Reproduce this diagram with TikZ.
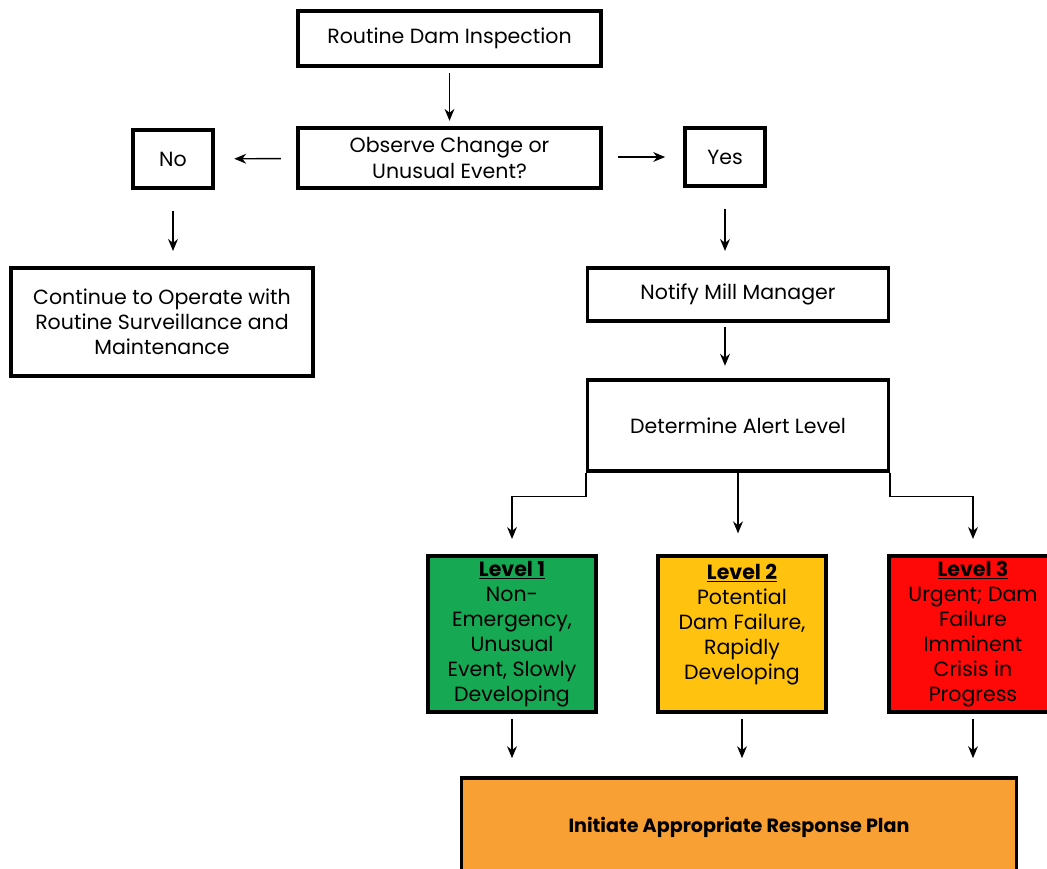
\documentclass[tikz,border=0pt]{standalone}
\usepackage{fontspec}
\setmainfont{Poppins}
\usepackage{tikz}
\usetikzlibrary{arrows.meta,positioning}
\definecolor{lvlgreen}{RGB}{22,168,82}
\definecolor{lvlyellow}{RGB}{255,194,14}
\definecolor{lvlred}{RGB}{255,8,8}
\definecolor{planorange}{RGB}{248,160,52}
\tikzstyle{box} = [draw, line width=2.2pt, align=center, inner sep=2pt, font=\fontsize{14.6}{17.8}\selectfont]
\tikzstyle{level} = [box, minimum width=4.2cm, minimum height=3.9cm]
\tikzstyle{arrow} = [line width=1pt,-{Stealth[length=8.5pt,width=7pt]}]

\begin{document}
\begin{tikzpicture}[x=0.025cm,y=-0.025cm]
\useasboundingbox (0,0) rectangle (1047,869);

% Inspection and decision
\node[box, minimum width=7.575cm, minimum height=1.375cm] (insp) at (449.5,38.5) {Routine Dam Inspection};
\node[box, minimum width=7.575cm, minimum height=1.5cm] (obs) at (449.5,158) {Observe Change or\\Unusual Event?};
\node[box, minimum width=2cm, minimum height=1.45cm] (no) at (173,159) {No};
\node[box, minimum width=2cm, minimum height=1.45cm] (yes) at (725,157) {Yes};

% No branch
\node[box, minimum width=7.55cm, minimum height=2.7cm] (cont) at (162,322) {Continue to Operate with\\Routine Surveillance and\\Maintenance};

% Yes branch
\node[box, minimum width=7.525cm, minimum height=1.325cm] (notify) at (738,294.5) {Notify Mill Manager};
\node[box, minimum width=7.525cm, minimum height=2.275cm] (alert) at (738,425.5) {Determine Alert Level};

% Alert levels (text starts at the top, so level 2 gets an empty last line)
\node[level, fill=lvlgreen] (lvl1) at (512,634) {\textbf{\underline{Level 1}}\\Non-\\Emergency,\\Unusual\\Event, Slowly\\Developing};
\node[level, fill=lvlyellow] (lvl2) at (742,634) {\textbf{\underline{Level 2}}\\Potential\\Dam Failure,\\Rapidly\\Developing\\\mbox{}};
\node[level, fill=lvlred] (lvl3) at (973,634) {\textbf{\underline{Level 3}}\\Urgent; Dam\\Failure\\Imminent\\Crisis in\\Progress};

% Response
\node[box, fill=planorange, minimum width=13.85cm, minimum height=2.45cm, font=\bfseries\fontsize{13.6}{16}\selectfont] (plan) at (739,827) {Initiate Appropriate Response Plan};

% Arrows
\draw[arrow, shorten <=4pt, shorten >=4pt] (insp) -- (obs);
\draw[arrow, shorten <=11pt, shorten >=14pt] (obs) -- (no);
\draw[arrow, shorten <=11pt, shorten >=13pt] (obs.east |- yes) -- (yes);
\draw[arrow, shorten <=15pt, shorten >=11pt] (no.south) -- (no.south |- cont.north);
\draw[arrow, shorten <=15pt, shorten >=11pt] (yes.south) -- (yes.south |- notify.north);
\draw[arrow, shorten <=3pt, shorten >=9pt] (notify.south -| yes) -- (yes |- alert.north);
\draw[arrow, shorten >=11pt] (alert.south west) -- ++(0,24) -| (lvl1.north);
\draw[arrow, shorten >=15pt] (alert.south) -- (alert.south |- lvl2.north);
\draw[arrow, shorten >=11pt] (alert.south east) -- ++(0,24) -| (lvl3.north);
\foreach \l in {lvl1,lvl2,lvl3}
    \draw[arrow, shorten <=4pt, shorten >=13pt] (\l.south) -- (\l.south |- plan.north);
\end{tikzpicture}
\end{document}
